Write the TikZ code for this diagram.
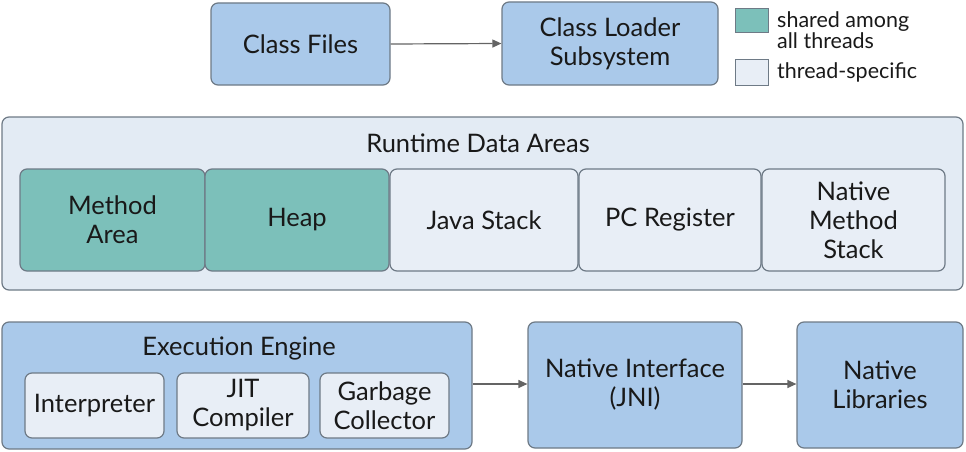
\documentclass[tikz,border=0pt]{standalone}
\usepackage{fontspec}
\setmainfont{Lato}
\usetikzlibrary{arrows.meta}
\definecolor{bluefill}{RGB}{170,201,234}
\definecolor{tealfill}{RGB}{124,192,186}
\definecolor{lightfill}{RGB}{232,238,246}
\definecolor{outerfill}{RGB}{227,235,244}
\definecolor{edgecol}{RGB}{110,122,134}
\definecolor{arrowcol}{RGB}{100,100,100}
\definecolor{txtcol}{RGB}{25,25,25}
\tikzset{
  x=1pt, y=-1pt,
  box/.style={draw=edgecol, line width=1.2pt, rounded corners=7pt, inner sep=0pt, align=center, text=txtcol, font=\fontsize{25.5}{29}\selectfont},
  bluebox/.style={box, fill=bluefill},
  tealbox/.style={box, fill=tealfill},
  lightbox/.style={box, fill=lightfill},
  outerbox/.style={box, fill=outerfill},
  conn/.style={draw=arrowcol, line width=1.2pt, -{Triangle[length=9pt,width=8pt]}},
  lbl/.style={font=\fontsize{25.5}{29}\selectfont, text=txtcol, inner sep=0pt, align=center},
  leg/.style={font=\fontsize{21.5}{21}\selectfont, text=txtcol, inner sep=0pt, align=left, anchor=west}
}
\begin{document}
\begin{tikzpicture}
\useasboundingbox (0,0) rectangle (966,452);
% top row
\node[bluebox, minimum width=179pt, minimum height=82pt] (cf) at (300.5,44) {Class Files};
\node[bluebox, minimum width=216pt, minimum height=83pt] (cl) at (610,43.5) {Class Loader\\Subsystem};
\draw[conn] (cf.east) -- (cl.west);
% legend
\node[draw=edgecol, line width=1pt, fill=tealfill, minimum width=33pt, minimum height=24pt, inner sep=0pt] (lt) at (751.5,21) {};
\node[leg] (ltt) at (777,30) {shared among\\all threads};
\node[draw=edgecol, line width=1pt, fill=lightfill, minimum width=33pt, minimum height=25pt, inner sep=0pt] (ll) at (751.5,72.5) {};
\node[leg] (llt) at (777,72) {thread-specific};
% runtime data areas
\node[outerbox, minimum width=961pt, minimum height=173pt] (rda) at (482.5,203.5) {};
\node[lbl] (rdat) at (478,143) {Runtime Data Areas};
\node[tealbox, minimum width=185pt, minimum height=102pt] (ma) at (112.5,220) {Method\\Area};
\node[tealbox, minimum width=184pt, minimum height=102pt] (hp) at (297,220) {Heap};
\node[lightbox, minimum width=188pt, minimum height=102pt] (js) at (484,220) {Java Stack};
\node[lightbox, minimum width=182pt, minimum height=102pt] (pc) at (670,220) {PC Register};
\node[lightbox, minimum width=183pt, minimum height=102pt] (nms) at (853.5,220) {Native\\Method\\Stack};
% execution engine
\node[bluebox, minimum width=470pt, minimum height=127pt] (ee) at (237,385.5) {};
\node[lbl] (eet) at (239,348) {Execution Engine};
\node[lightbox, minimum width=139pt, minimum height=65pt] (int) at (94.5,405.5) {Interpreter};
\node[lightbox, minimum width=132pt, minimum height=65pt] (jit) at (243,405.5) {JIT\\Compiler};
\node[lightbox, minimum width=129pt, minimum height=65pt] (gc) at (384.5,405.5) {Garbage\\Collector};
\node[bluebox, minimum width=214pt, minimum height=126pt] (jni) at (635,385) {Native Interface\\(JNI)};
\node[bluebox, minimum width=166pt, minimum height=126pt] (nl) at (880,385) {Native\\Libraries};
\draw[conn] (ee.east |- 0,384) -- (jni.west |- 0,384);
\draw[conn] (jni.east |- 0,384) -- (nl.west |- 0,384);
\end{tikzpicture}
\end{document}
